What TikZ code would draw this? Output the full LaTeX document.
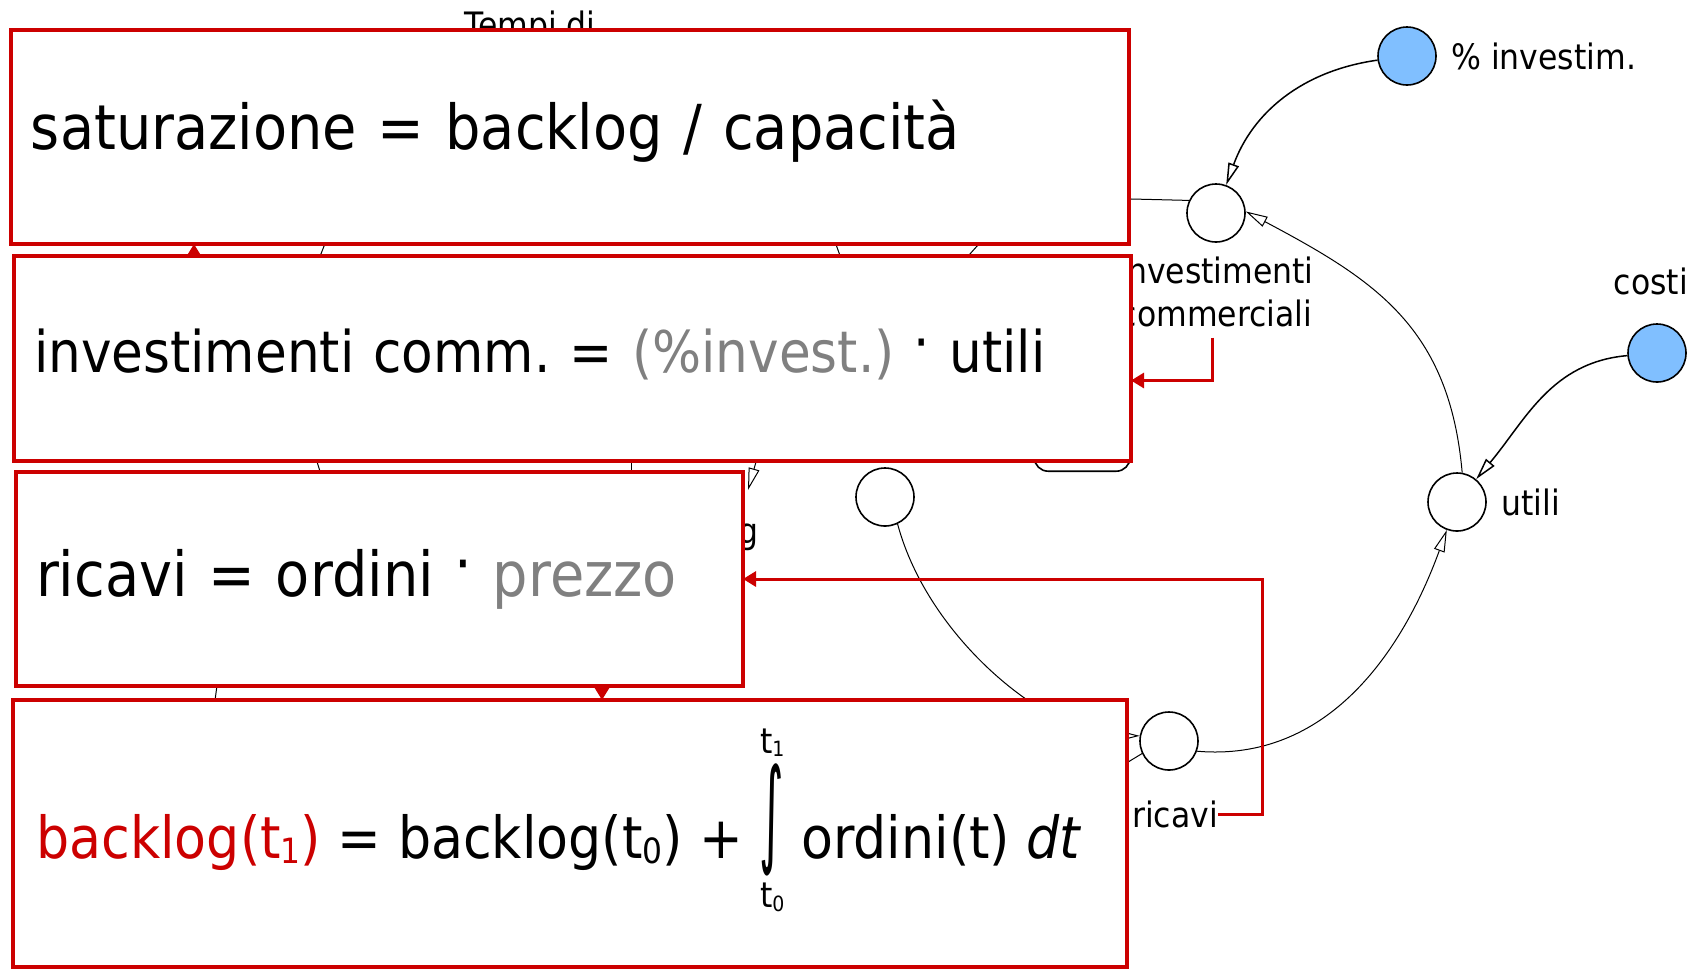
\documentclass[tikz,border=0pt]{standalone}
\usepackage{fontspec}
\setmainfont{DejaVu Sans}[FakeStretch=0.9]
\usepackage{graphicx}
\usetikzlibrary{arrows.meta,positioning,backgrounds}

\definecolor{boxred}{RGB}{204,0,0}
\definecolor{parblue}{RGB}{128,191,255}
\definecolor{pargray}{RGB}{128,128,128}

% raised product dot, small time index
\newcommand{\pdot}{\raisebox{0.17em}{·}}
\newcommand{\tsub}[1]{\raisebox{-0.1em}{\scalebox{0.6}{#1}}}

\tikzset{
  var/.style={circle, draw, line width=0.8pt, minimum size=29pt, inner sep=0pt, fill=white},
  param/.style={var, fill=parblue},
  lbl/.style={font=\fontsize{17.5}{21.5}\selectfont, inner sep=0pt, align=center},
  link/.style={line width=0.5pt},
  flow/.style={line width=0.5pt, -{Triangle[open, fill=white, length=11pt, width=5.5pt]}},
  pflow/.style={flow, line width=0.75pt},
  eqbox/.style={draw=boxred, line width=2.25pt, fill=white, anchor=north west, outer sep=0pt,
    inner xsep=10pt, inner ysep=0pt, font=\fontsize{31}{37}\selectfont, align=left},
  eqtext/.style={font=\fontsize{29}{35}\selectfont, inner sep=0pt},
  redarrow/.style={draw=boxred, line width=1.5pt, -{Triangle[length=6.5pt, width=7.5pt]}},
}

\begin{document}
\frenchspacing
\begin{tikzpicture}[x=0.5pt, y=0.5pt]
\useasboundingbox (0,0) rectangle (1693,-971);

% equation boxes
\node[eqbox, text width=539pt, minimum height=107pt, text depth=12pt] (satbox) at (11,-30)
  {saturazione = backlog / capacità};
\node[eqbox, text width=538.5pt, minimum height=102.5pt, text depth=8pt,
  font=\fontsize{28.7}{34}\selectfont] (invbox) at (14,-256)
  {investimenti comm. = \textcolor{pargray}{(\%invest.)} \pdot{} utili};
\node[eqbox, text width=343.5pt, minimum height=107pt] (ricbox) at (16,-472)
  {ricavi = ordini \pdot{} \textcolor{pargray}{prezzo}};
\node[eqbox, minimum width=557pt, minimum height=133.5pt] (blgbox) at (13,-700) {};

% integral of the orders
\node[eqtext, anchor=base west] (blglhs) at (36,-858)
  {\textcolor{boxred}{backlog(t\tsub{1})} = backlog(t\tsub{0}) +};
\node[eqtext, anchor=west] (intsign) at ([xshift=8pt, yshift=19pt]blglhs.base east)
  {\scalebox{0.9}[2.0]{∫}};
\coordinate (rhsat) at (intsign.east |- blglhs.base);
\node[eqtext, anchor=base west] (blgrhs) at ([xshift=8pt]rhsat) {ordini(t) \textit{dt}};
\node[lbl, above=3pt of intsign] (tup) {t\tsub{1}};
\node[lbl, below=3pt of intsign] (tlow) {t\tsub{0}};

\begin{scope}[on background layer]
  % model variables
  \node[param] (pinv) at (1407,-56) {};
  \node[lbl, right=7pt of pinv] (pinvlbl) {\% investim.};
  \node[var] (invc) at (1216,-213) {};
  \node[lbl, below=7pt of invc] (invlbl) {investimenti\\commerciali};
  \node[param] (costi) at (1657,-353) {};
  \node[lbl, above=14pt of costi, xshift=-3pt] (costilbl) {costi};
  \node[var] (utili) at (1457,-502) {};
  \node[lbl, right=7pt of utili] (utililbl) {utili};
  \node[var] (ordini) at (885,-497) {};
  \node[var] (ricavi) at (1169,-741) {};
  \node[lbl, below=15pt of ricavi, xshift=3pt] (riclbl) {ricavi};
  \node[lbl, anchor=base] (tempilbl) at (530,-37) {Tempi di};
  \node[lbl, anchor=base east] (blglbl) at (759,-543) {backlog};
  \node[draw, rounded corners=7pt, line width=0.8pt, minimum width=48pt, minimum height=45pt,
    inner sep=0pt, anchor=south east] (stock) at (1131,-472) {};

  % links
  \draw[pflow] (pinv) to[out=188, in=70] (invc);
  \draw[pflow] (costi) to[out=185, in=50] (utili);
  \draw[flow] (utili.80) to[out=95, in=-28, looseness=1.1] (invc.3);
  \draw[flow] (ricavi.-20) to[out=-5, in=-110] (utili);
  \draw[flow] (ordini.-65) .. controls +(-75:120) and +(180:90) .. (ricavi.170);
  \coordinate (invsrc) at (1050,-197);
  \draw[link] (invc.155) -- (invsrc);
  \coordinate (ricdst) at (1100,-779);
  \draw[link] (ricavi.205) -- (ricdst);

  % pieces of links running under the boxes
  \coordinate (s1) at (328,-236); \coordinate (e1) at (317,-264);
  \coordinate (s2) at (833,-236); \coordinate (e2) at (843,-264);
  \coordinate (s3) at (986,-236); \coordinate (e3) at (961,-264);
  \coordinate (s4) at (314,-452); \coordinate (e4) at (323,-481);
  \coordinate (s5) at (631,-452); \coordinate (e5) at (631,-481);
  \coordinate (s6) at (218,-678); \coordinate (e6) at (214,-708);
  \foreach \i in {1,...,6}
    \draw[link] (s\i) -- (e\i);
  \coordinate (s7) at (768,-420); \coordinate (e7) at (748,-490);
  \draw[flow] (s7) -- (e7);

  % red pointers to the equations
  \draw[redarrow] ([xshift=-2pt, yshift=-5pt]invlbl.south) |- ([yshift=-11pt]invbox.east);
  \draw[redarrow] (riclbl.east) -- ++(22pt,0) |- (ricbox.east);
  \coordinate (satsrc) at (194,-300);
  \draw[redarrow] (satsrc) -- (satsrc |- satbox.south);
  \coordinate (blgsrc) at (602,-640);
  \draw[redarrow] (blgsrc) -- (blgsrc |- blgbox.north);
\end{scope}
\end{tikzpicture}
\end{document}
